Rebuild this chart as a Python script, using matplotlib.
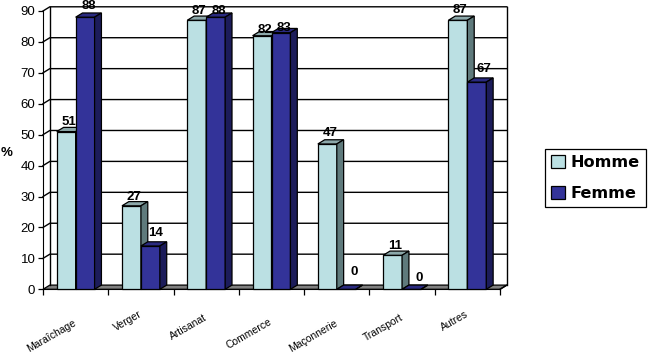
import numpy as np
import matplotlib
matplotlib.use('Agg')
import matplotlib.pyplot as plt

categories = ["Maraîchage", "Verger", "Artisanat", "Commerce", "Maçonnerie", "Transport", "Autres"]
homme = [51, 27, 87, 82, 47, 11, 87]
femme = [88, 14, 88, 83, 0, 0, 67]

plt.rcParams['font.family'] = ['Liberation Sans', 'DejaVu Sans']

W, H = 648, 356
fig = plt.figure(figsize=(W / 100, H / 100), dpi=100)
# front plane of the fake 3d box, in pixels
ax = fig.add_axes([43 / W, 1 - 289.3 / H, 457 / W, 278.3 / H])
ax.set_xlim(0, 7)
ax.set_ylim(0, 90)
for s in ['top', 'right']:
    ax.spines[s].set_visible(False)

dx, dy = 0.105, 1.36   # depth of the box
bw = 0.29              # bar width


def poly(xs, ys, color, z):
    ax.fill(xs, ys, facecolor=color, edgecolor='black', lw=0.9, clip_on=False, zorder=z)


# floor, walls and grid
poly([0, 7, 7 + dx, dx], [0, 0, dy, dy], '#808080', 1)
for v in range(10, 100, 10):
    ax.plot([0, dx, 7 + dx], [v, v + dy, v + dy], color='black', lw=1, clip_on=False, zorder=1)
ax.plot([dx, dx], [dy, 90 + dy], color='black', lw=1, clip_on=False, zorder=1)
ax.plot([7 + dx, 7 + dx], [dy, 90 + dy], color='black', lw=1, clip_on=False, zorder=1)
ax.plot([7, 7 + dx], [0, dy], color='black', lw=1, clip_on=False, zorder=1)


def bar3d(x, v, front, top, side, z):
    ax.bar(x, v, bw, align='edge', color=front, edgecolor='black', lw=0.9, zorder=z, clip_on=False)
    poly([x, x + bw, x + bw + dx, x + dx], [v, v, v + dy, v + dy], top, z)
    poly([x + bw, x + bw + dx, x + bw + dx, x + bw], [0, dy, v + dy, v], side, z)


centres = np.arange(7) + 0.5
for i, c in enumerate(centres):
    bar3d(c - bw, homme[i], '#BBE0E3', '#8CA8AA', '#5F7A7C', 3 + i)
    bar3d(c, femme[i], '#333399', '#2A2A80', '#1C1C5A', 3.5 + i)

# value labels were hand placed in the original, offsets in pixels
up_h = [9.6, 9, 9, 6, 11, 9, 10]
up_f = [11, 13, 6, 5, 17, 11, 13]
right_f = [4, 5, 3, 3, 8, 8, 7]
for i, c in enumerate(centres):
    ax.annotate(str(homme[i]), (c - bw / 2, homme[i]), xytext=(2.5 * 0.72, up_h[i] * 0.72),
                textcoords='offset points', ha='center', va='center',
                fontsize=9.5, fontweight='bold', zorder=20, annotation_clip=False)
    ax.annotate(str(femme[i]), (c + bw / 2, femme[i]), xytext=(right_f[i] * 0.72, up_f[i] * 0.72),
                textcoords='offset points', ha='center', va='center',
                fontsize=9.5, fontweight='bold', zorder=20, annotation_clip=False)

ax.set_yticks(range(0, 100, 10))
ax.tick_params(axis='y', labelsize=9.5, length=3.5, width=0.9, pad=2)
ax.set_xticks(range(8))
ax.set_xticklabels([])
ax.tick_params(axis='x', which='major', length=4, width=0.9)
ax.set_xticks(centres, categories, minor=True)
ax.tick_params(axis='x', which='minor', length=0, labelsize=7.5)
label_pads = [23.5, 17, 20, 23, 24, 20, 17]
for tick, pad in zip(ax.xaxis.get_minor_ticks(), label_pads):
    tick.set_pad(pad)
for t in ax.get_xticklabels(minor=True):
    t.set_rotation(30)
    t.set_ha('right')
    t.set_va('center')
    t.set_rotation_mode('anchor')

fig.text(7 / W, 1 - 153 / H, "%", fontsize=9.5, fontweight='bold', ha='center', va='center')

# legend
hs = [plt.Rectangle((0, 0), 1, 1, fc='#BBE0E3', ec='black', lw=0.9),
      plt.Rectangle((0, 0), 1, 1, fc='#333399', ec='black', lw=0.9)]
leg = fig.legend(hs, ["Homme", "Femme"], loc='lower left',
                 bbox_to_anchor=(545 / W, 1 - 207 / H), bbox_transform=fig.transFigure,
                 borderaxespad=0, fancybox=False, edgecolor='black', framealpha=1,
                 prop={'size': 11.6, 'weight': 'bold', 'family': 'DejaVu Sans'},
                 handlelength=0.9, handleheight=0.85,
                 handletextpad=0.33, labelspacing=1.0, borderpad=0.36)
leg.get_frame().set_linewidth(0.9)

fig.savefig('out.png', dpi=100)
